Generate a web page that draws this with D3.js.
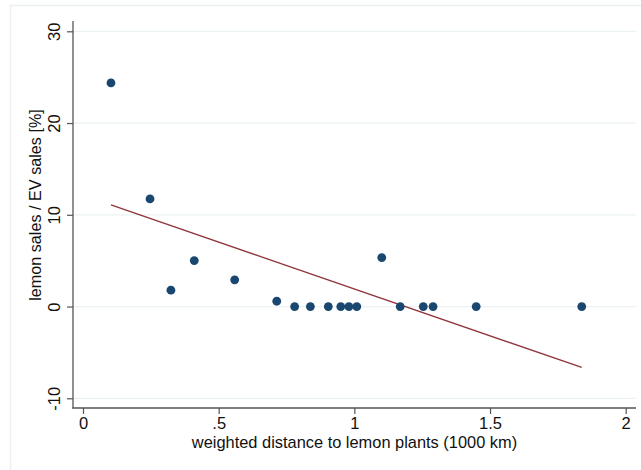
<!DOCTYPE html>
<html>
<head>
<meta charset="utf-8">
<script src="https://cdn.jsdelivr.net/npm/d3@7"></script>
<style>
  html, body { margin: 0; padding: 0; background: #fff; }
  svg { display: block; font-family: "Liberation Sans", Arial, Helvetica, sans-serif; }
</style>
</head>
<body>
<svg id="chart" width="641" height="470"></svg>
<script>
// Weighted distance to lemon plants (1000 km) per market
const distance = [0.103, 0.247, 0.324, 0.410, 0.559, 0.714, 0.780, 0.838, 0.904,
                  0.950, 0.980, 1.009, 1.101, 1.169, 1.254, 1.290, 1.449, 1.838];
// Lemon sales as a share of EV sales (%)
const lemonShare = [24.37, 11.73, 1.79, 5.01, 2.91, 0.58, 0, 0, 0,
                    0, 0, 0, 5.34, 0, 0, 0, 0, 0];
// Linear fit line endpoints
const fitX = [0.103, 1.838];
const fitY = [11.08, -6.64];

const xTicks = [0, 0.5, 1, 1.5, 2];
const xTickLabels = ["0", ".5", "1", "1.5", "2"];
const yTicks = [-10, 0, 10, 20, 30];
const yTickLabels = ["-10", "0", "10", "20", "30"];

const xTitle = "weighted distance to lemon plants (1000 km)";
const yTitle = "lemon sales / EV sales [%]";

const svg = d3.select("#chart");

// outer frame
svg.append("rect")
  .attr("x", 10.5).attr("y", 5.5)
  .attr("width", 640).attr("height", 470)
  .attr("fill", "#fff")
  .attr("stroke", "#eaf0f0").attr("stroke-width", 1.5);

const plotL = 73, plotR = 636, plotT = 21, plotB = 408;

const x = d3.scaleLinear().domain([0, 2]).range([83, 625.7]);
const y = d3.scaleLinear().domain([-10, 30]).range([398.3, 31.3]);

// gridlines
svg.append("g")
  .selectAll("line")
  .data(yTicks)
  .join("line")
  .attr("x1", plotL).attr("x2", plotR)
  .attr("y1", d => y(d)).attr("y2", d => y(d))
  .attr("stroke", "#eaf2f3").attr("stroke-width", 1.3);

// y axis
const yAxis = d3.axisLeft(y)
  .tickValues(yTicks)
  .tickFormat((d, i) => yTickLabels[i])
  .tickSize(6)
  .tickPadding(4);
const gy = svg.append("g").attr("transform", `translate(${plotL},0)`).call(yAxis);
gy.select(".domain").remove();
gy.selectAll(".tick line").attr("stroke", "#555").attr("stroke-width", 1.2);
gy.selectAll(".tick text")
  .attr("font-size", 16.5)
  .attr("fill", "#111")
  .attr("text-anchor", "middle")
  .attr("x", null).attr("dy", null)
  .attr("transform", "translate(-13,0) rotate(-90)");

// x axis
const xAxis = d3.axisBottom(x)
  .tickValues(xTicks)
  .tickFormat((d, i) => xTickLabels[i])
  .tickSize(6)
  .tickPadding(3);
const gx = svg.append("g").attr("transform", `translate(0,${plotB})`).call(xAxis);
gx.select(".domain").remove();
gx.selectAll(".tick line").attr("stroke", "#555").attr("stroke-width", 1.2);
gx.selectAll(".tick text").attr("font-size", 16.5).attr("fill", "#111");

// axis lines
svg.append("line")
  .attr("x1", plotL).attr("x2", plotL)
  .attr("y1", plotT).attr("y2", plotB + 0.6)
  .attr("stroke", "#555").attr("stroke-width", 1.3);
svg.append("line")
  .attr("x1", plotL - 0.6).attr("x2", plotR)
  .attr("y1", plotB).attr("y2", plotB)
  .attr("stroke", "#555").attr("stroke-width", 1.3);

// fit line
svg.append("line")
  .attr("x1", x(fitX[0])).attr("y1", y(fitY[0]))
  .attr("x2", x(fitX[1])).attr("y2", y(fitY[1]))
  .attr("stroke", "#90353b").attr("stroke-width", 1.3);

// scatter points
svg.append("g")
  .selectAll("circle")
  .data(distance.map((d, i) => [d, lemonShare[i]]))
  .join("circle")
  .attr("cx", d => x(d[0]))
  .attr("cy", d => y(d[1]))
  .attr("r", 4.4)
  .attr("fill", "#1a476f");

// axis titles
svg.append("text")
  .attr("x", (plotL + plotR) / 2).attr("y", 448)
  .attr("text-anchor", "middle")
  .attr("font-size", 16.4).attr("fill", "#111")
  .text(xTitle);

svg.append("text")
  .attr("transform", "translate(41,205) rotate(-90)")
  .attr("text-anchor", "middle")
  .attr("font-size", 16.2).attr("fill", "#111")
  .text(yTitle);
</script>
</body>
</html>
